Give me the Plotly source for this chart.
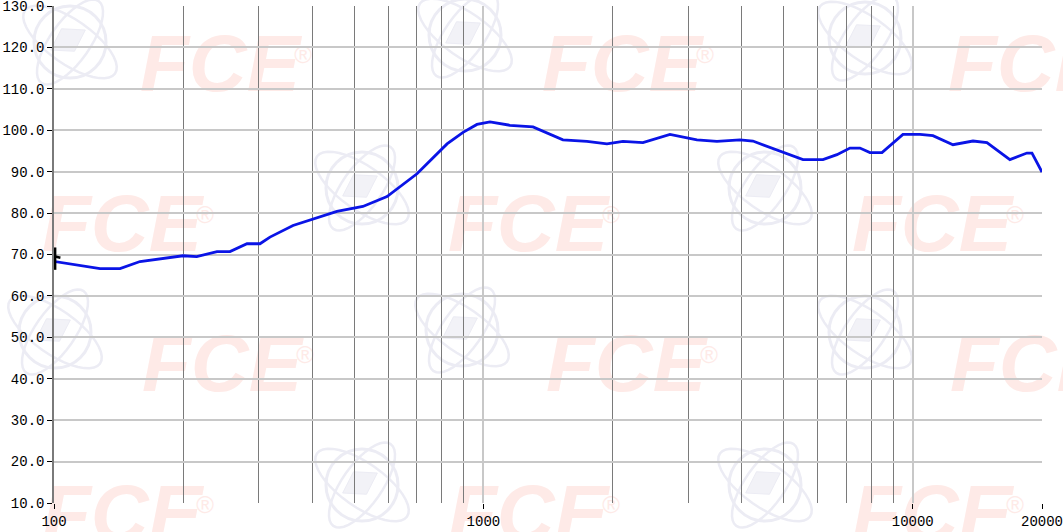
import math
import plotly.graph_objects as go

# ---------------- data ----------------
freq_hz = [100, 100.5, 128, 142.5, 158.6, 199.7, 215, 239.7, 257, 281.5, 301.8, 318.4,
           360.3, 401, 456, 524, 596.5, 700.5, 751, 823, 896.7, 966.2, 1036, 1153,
           1305, 1532, 1743, 1940, 2114, 2353, 2720, 3143, 3499, 3959, 4244, 4985,
           5551, 6179, 6660, 7140, 7534, 7949, 8479, 9489, 10394, 11145, 12407,
           13812, 14887, 16837, 18446, 18953, 20000]
spl_db = [68.8, 68.3, 66.6, 66.6, 68.3, 69.7, 69.5, 70.7, 70.7, 72.6, 72.6, 74.2,
          77.0, 78.6, 80.4, 81.6, 84.0, 89.5, 92.7, 96.7, 99.5, 101.4, 102.0, 101.2,
          100.8, 97.7, 97.3, 96.7, 97.3, 97.0, 99.0, 97.7, 97.3, 97.7, 97.4, 94.7,
          92.9, 92.9, 94.1, 95.7, 95.7, 94.6, 94.6, 99.0, 99.0, 98.7, 96.5,
          97.4, 97.0, 92.9, 94.5, 94.5, 89.9]

cursor_x = [100.6, 100.6, None, 100.6, 103.5]
cursor_y = [71.7, 66.3, None, 69.5, 69.2]

y_ticks = [10, 20, 30, 40, 50, 60, 70, 80, 90, 100, 110, 120, 130]
x_major = [100, 1000, 10000, 20000]
x_major_labels = ["100", "1000", "10000", "20000"]
x_minor = [200, 300, 400, 500, 600, 700, 800, 900,
           2000, 3000, 4000, 5000, 6000, 7000, 8000, 9000]

# ---------------- figure ----------------
W, H = 1063, 532
L, R, T, B = 54, 21, 6, 29
PW, PH = W - L - R, H - T - B

def fx(px):
    return (px - L) / PW

def fy(py):
    return (H - B - py) / PH

fig = go.Figure()
fig.add_trace(go.Scatter(x=freq_hz, y=spl_db, mode="lines",
                         line=dict(color="rgb(10,20,230)", width=2.8),
                         hoverinfo="x+y", showlegend=False))
fig.add_trace(go.Scatter(x=cursor_x, y=cursor_y, mode="lines",
                         line=dict(color="black", width=2.5),
                         hoverinfo="skip", showlegend=False))

shapes = []
# watermark atom logos
logo_c = [(70, 42), (465, 35), (865, 38), (362, 188), (765, 188), (55, 332),
          (462, 330), (865, 332), (362, 485), (765, 485)]
wm_line = "#ececf4"
def ellipse_path(cx, cy, rx, ry, rot, n=40):
    pts = []
    for k in range(n + 1):
        t = 2 * math.pi * k / n
        ex, ey = rx * math.cos(t), ry * math.sin(t)
        x = cx + ex * math.cos(rot) - ey * math.sin(rot)
        y = cy + ex * math.sin(rot) + ey * math.cos(rot)
        pts.append((fx(x), fy(y)))
    return "M " + " L ".join(f"{a:.5f},{b:.5f}" for a, b in pts) + " Z"

for cx, cy in logo_c:
    shapes.append(dict(type="circle", xref="paper", yref="paper", layer="below",
                       x0=fx(cx - 36), x1=fx(cx + 36), y0=fy(cy + 36), y1=fy(cy - 36),
                       line=dict(color=wm_line, width=3)))
    shapes.append(dict(type="path", xref="paper", yref="paper", layer="below",
                       path=ellipse_path(cx, cy, 55, 22, math.radians(35)),
                       line=dict(color=wm_line, width=2.5)))
    shapes.append(dict(type="path", xref="paper", yref="paper", layer="below",
                       path=ellipse_path(cx, cy, 50, 20, math.radians(-55)),
                       line=dict(color=wm_line, width=2.5)))
    shapes.append(dict(type="path", xref="paper", yref="paper", layer="below",
                       path=ellipse_path(cx - 2, cy - 2, 20, 13, math.radians(-30), n=4),
                       fillcolor="#f2f2f7", line=dict(color="#ececf4", width=1)))

# watermark FCE texts
fce_c = [(220, 55), (622, 55), (1028, 55), (122, 215), (528, 215), (932, 215),
         (222, 355), (626, 355), (1030, 355), (122, 505), (528, 505), (932, 505)]
pink = "#feeae7"
for cx, cy in fce_c:
    shapes.append(dict(type="rect", xref="paper", yref="paper", layer="below",
                       x0=fx(cx - 80), x1=fx(cx + 80), y0=fy(cy + 40), y1=fy(cy - 40),
                       line=dict(width=0), fillcolor="rgba(0,0,0,0)",
                       label=dict(text="FCE", textposition="middle center",
                                  font=dict(family="Liberation Sans", size=80,
                                            color=pink, weight="bold", style="italic"))))
    shapes.append(dict(type="rect", xref="paper", yref="paper", layer="below",
                       x0=fx(cx + 68), x1=fx(cx + 98), y0=fy(cy + 12), y1=fy(cy - 18),
                       line=dict(width=0), fillcolor="rgba(0,0,0,0)",
                       label=dict(text="®", textposition="middle center",
                                  font=dict(family="Liberation Sans", size=24,
                                            color=pink))))

fig.update_layout(
    width=W, height=H,
    margin=dict(l=L, r=R, t=T, b=B, autoexpand=False),
    paper_bgcolor="white", plot_bgcolor="rgba(0,0,0,0)",
    shapes=shapes, showlegend=False,
    font=dict(family="Liberation Mono", size=14, color="black"),
)
fig.update_xaxes(
    type="log", range=[2, math.log10(20000)], automargin=False,
    ticklabeloverflow="allow",
    tickmode="array", tickvals=x_major, ticktext=x_major_labels,
    ticks="outside", ticklen=5, tickwidth=1, tickcolor="black",
    showgrid=True, gridcolor="#c8c8c8", gridwidth=1.5,
    showline=False, zeroline=False,
    tickfont=dict(family="Liberation Mono", size=14, color="black"),
    minor=dict(tickmode="array", tickvals=x_minor, showgrid=True,
               gridcolor="#7a7a7a", gridwidth=1.4, ticks=""),
)
fig.update_yaxes(
    range=[10, 130], tickmode="array", tickvals=y_ticks, automargin=False,
    ticklabeloverflow="allow",
    ticktext=[f"{v:.1f}" for v in y_ticks],
    ticks="outside", ticklen=5, tickwidth=1, tickcolor="black",
    showgrid=True, gridcolor="#c8c8c8", gridwidth=1.5,
    showline=True, linecolor="#7a7a7a", linewidth=1.5, zeroline=False,
    tickfont=dict(family="Liberation Mono", size=14, color="black"),
)

fig.write_html("out.html",
               config={"displayModeBar": False},
               post_script="document.body.style.margin='0';"
                           "document.body.style.overflow='hidden';")
